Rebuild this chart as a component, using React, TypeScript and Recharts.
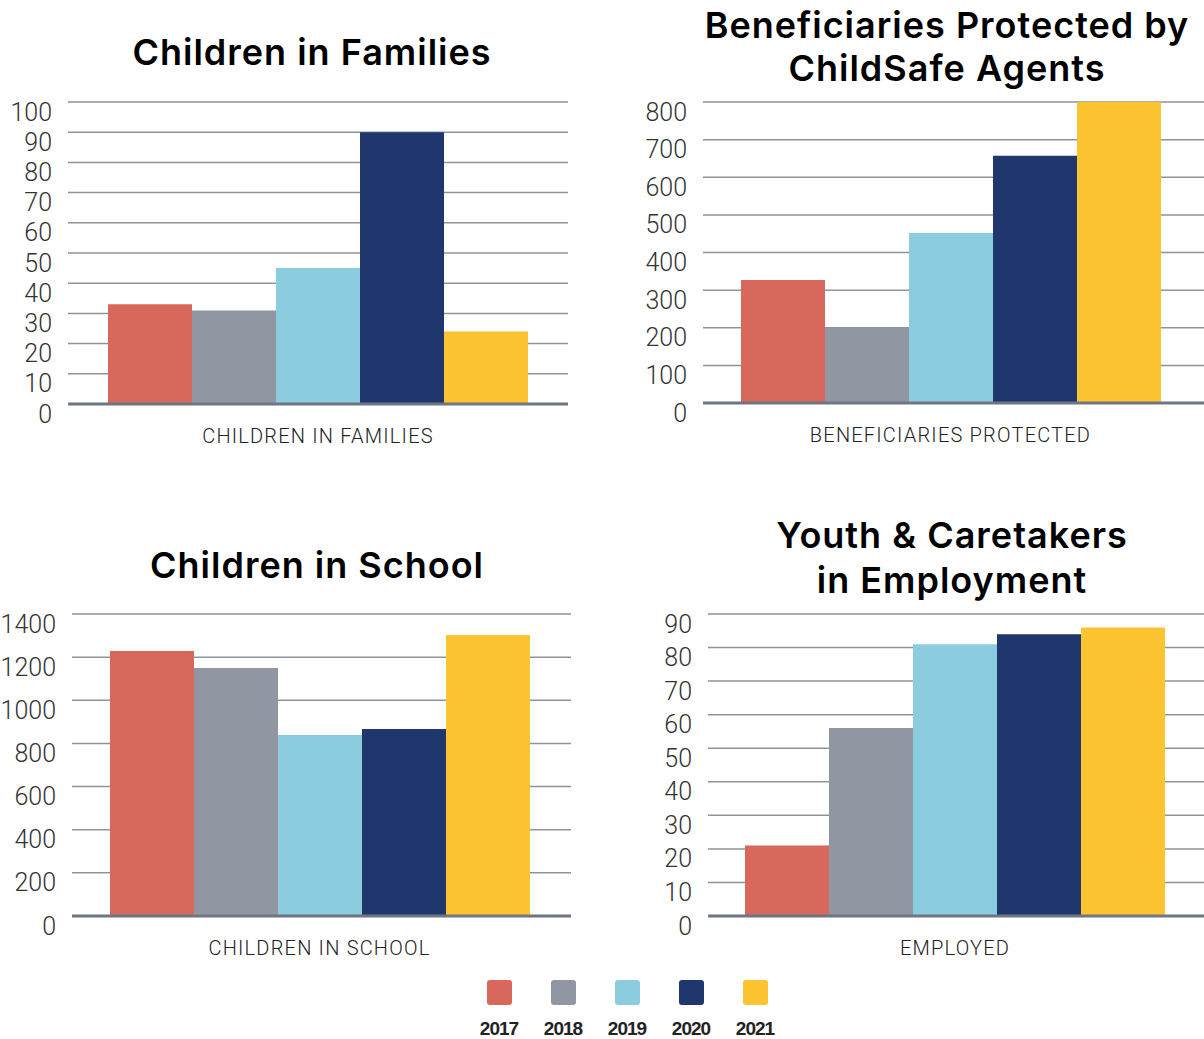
import React from 'react';
import { BarChart, Bar, XAxis, YAxis, CartesianGrid } from 'recharts';

const years = ['2017', '2018', '2019', '2020', '2021'];
const colors = ['#D8675C', '#9097A3', '#8BCDDE', '#1F376D', '#FDC431'];

const familiesValues = [33, 31, 45, 90, 24];
const beneficiariesValues = [327, 200, 452, 657, 800];
const schoolValues = [1228, 1150, 839, 867, 1303];
const employedValues = [21, 56, 81, 84, 86];

const familiesTicks = [0, 10, 20, 30, 40, 50, 60, 70, 80, 90, 100];
const beneficiariesTicks = [0, 100, 200, 300, 400, 500, 600, 700, 800];
const schoolTicks = [0, 200, 400, 600, 800, 1000, 1200, 1400];
const employedTicks = [0, 10, 20, 30, 40, 50, 60, 70, 80, 90];

const lightFont = "Roboto, 'Liberation Sans', sans-serif";
const titleFont = "Inter, 'Liberation Sans', Arial, sans-serif";

function toRow(label: string, values: number[]) {
  const row: Record<string, string | number> = { name: label };
  years.forEach((y, i) => {
    row['y' + y] = values[i];
  });
  return [row];
}

const YTick = (props: any) => {
  const { x, y, payload } = props;
  return (
    <text x={x} y={y + 10} textAnchor="end" dominantBaseline="central" fill="#333" fontSize={25} fontWeight={300} fontFamily={lightFont}>
      {payload.value}
    </text>
  );
};

const XTick = (props: any) => {
  const { x, y, payload } = props;
  return (
    <text x={x} y={y} textAnchor="middle" dominantBaseline="central" fill="#222" fontSize={20} fontWeight={300} letterSpacing={1.2} fontFamily={lightFont}>
      {payload.value}
    </text>
  );
};

interface PanelProps {
  left: number;
  top: number;
  width: number;
  height: number;
  axisWidth: number;
  marginTop: number;
  label: string;
  values: number[];
  ticks: number[];
  padRight?: number;
}

function Panel({ left, top, width, height, axisWidth, marginTop, label, values, ticks, padRight = 0 }: PanelProps) {
  const max = ticks[ticks.length - 1];
  return (
    <div style={{ position: 'absolute', left, top }}>
      <BarChart width={width} height={height} data={toRow(label, values)} margin={{ top: marginTop, right: 0, left: 0, bottom: 0 }} barGap={0} barSize={84}>
        <CartesianGrid vertical={false} stroke="#8d939c" strokeWidth={1.5} />
        <XAxis dataKey="name" height={56} tickSize={0} tickMargin={32} tick={<XTick />} axisLine={{ stroke: '#6e7583', strokeWidth: 3 }} padding={{ left: 0, right: padRight }} />
        <YAxis width={axisWidth} domain={[0, max]} ticks={ticks} interval={0} axisLine={false} tickLine={false} tickSize={0} tickMargin={16} tick={<YTick />} />
        {years.map((y, i) => (
          <Bar key={y} dataKey={'y' + y} fill={colors[i]} isAnimationActive={false} />
        ))}
      </BarChart>
    </div>
  );
}

function Title({ cx, top, lines, lineHeight = 43 }: { cx: number; top: number; lines: string[]; lineHeight?: number }) {
  return (
    <div style={{ position: 'absolute', left: cx - 300, top, width: 600, textAlign: 'center', fontFamily: titleFont, fontWeight: 600, fontSize: 36, letterSpacing: 1, lineHeight: lineHeight + 'px', color: '#000' }}>
      {lines.map((l) => (
        <div key={l}>{l}</div>
      ))}
    </div>
  );
}

export default function App() {
  return (
    <div style={{ position: 'absolute', left: 0, top: 0, width: 1204, height: 1039, background: '#fff' }}>
      <Title cx={312} top={31} lines={['Children in Families']} lineHeight={42} />
      <Title cx={947} top={4} lines={['Beneficiaries Protected by', 'ChildSafe Agents']} />
      <Title cx={317} top={544} lines={['Children in School']} lineHeight={42} />
      <Title cx={952} top={513} lines={['Youth & Caretakers', 'in Employment']} lineHeight={45} />

      <Panel left={0} top={90} width={568} height={370} axisWidth={68} marginTop={12} label="CHILDREN IN FAMILIES" values={familiesValues} ticks={familiesTicks} />
      <Panel left={620} top={90} width={584} height={369} axisWidth={83} marginTop={12} label="BENEFICIARIES PROTECTED" values={beneficiariesValues} ticks={beneficiariesTicks} padRight={6} />
      <Panel left={0} top={600} width={571} height={372} axisWidth={72} marginTop={14} label="CHILDREN IN SCHOOL" values={schoolValues} ticks={schoolTicks} padRight={4} />
      <Panel left={620} top={600} width={584} height={372} axisWidth={88} marginTop={14} label="EMPLOYED" values={employedValues} ticks={employedTicks} padRight={2} />

      <div style={{ position: 'absolute', left: 467, top: 980, display: 'flex' }}>
        {years.map((y, i) => (
          <div key={y} style={{ width: 64, display: 'flex', flexDirection: 'column', alignItems: 'center' }}>
            <div style={{ width: 25, height: 25, borderRadius: 3, background: colors[i] }} />
            <div style={{ marginTop: 14, fontFamily: "'Liberation Sans', Arial, sans-serif", fontWeight: 700, fontSize: 19, letterSpacing: -1, lineHeight: '20px', color: '#222' }}>{y}</div>
          </div>
        ))}
      </div>
    </div>
  );
}
